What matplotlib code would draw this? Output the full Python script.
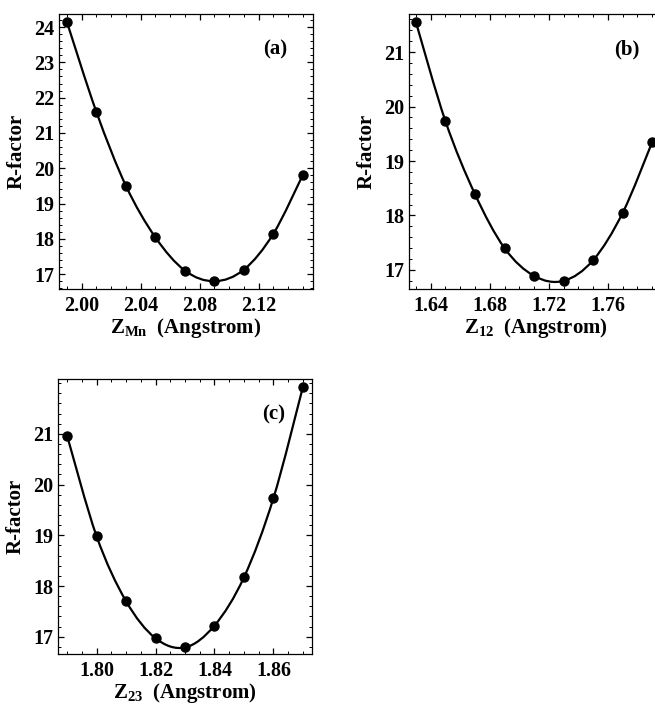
import numpy as np
import matplotlib
matplotlib.use('Agg')
import matplotlib.pyplot as plt
from matplotlib.path import Path
from matplotlib.patches import PathPatch
from matplotlib.ticker import AutoMinorLocator

plt.rcParams['font.family'] = ['Liberation Serif', 'DejaVu Serif']
plt.rcParams['font.weight'] = 'bold'
plt.rcParams['mathtext.fontset'] = 'custom'
plt.rcParams['mathtext.rm'] = 'Liberation Serif:bold'
plt.rcParams['mathtext.bf'] = 'Liberation Serif:bold'
plt.rcParams['mathtext.default'] = 'bf'

# R-factor versus layer spacing
z_mn = [1.99, 2.01, 2.03, 2.05, 2.07, 2.09, 2.11, 2.13, 2.15]
r_mn = [24.14, 21.59, 19.50, 18.04, 17.10, 16.80, 17.13, 18.15, 19.82]

z_12 = [1.63, 1.65, 1.67, 1.69, 1.71, 1.73, 1.75, 1.77, 1.79]
r_12 = [21.55, 19.73, 18.39, 17.40, 16.89, 16.80, 17.18, 18.05, 19.35]

z_23 = [1.79, 1.80, 1.81, 1.82, 1.83, 1.84, 1.85, 1.86, 1.87]
r_23 = [20.96, 18.98, 17.70, 16.97, 16.79, 17.22, 18.17, 19.73, 21.92]

xticks_a = [2.00, 2.04, 2.08, 2.12]
xticks_b = [1.64, 1.68, 1.72, 1.76]
xticks_c = [1.80, 1.82, 1.84, 1.86]


def smooth_path(x, y):
    # Catmull-Rom style bezier through the measured points
    p = np.column_stack([x, y])
    verts = [p[0]]
    codes = [Path.MOVETO]
    n = len(p)
    for i in range(n - 1):
        p0 = p[i - 1] if i > 0 else p[i]
        p3 = p[i + 2] if i + 2 < n else p[i + 1]
        c1 = p[i] + (p[i + 1] - p0) / 6.0
        c2 = p[i + 1] - (p3 - p[i]) / 6.0
        verts += [c1, c2, p[i + 1]]
        codes += [Path.CURVE4] * 3
    return Path(verts, codes)


def panel(ax, x, y, xlim, ylim, xticks, yticks, xlabel, tag, tagpos):
    ax.add_patch(PathPatch(smooth_path(x, y), fc='none', ec='black', lw=1.6))
    ax.plot(x, y, 'o', color='black', ms=6.5)
    ax.set_xlim(xlim)
    ax.set_ylim(ylim)
    ax.set_xticks(xticks)
    ax.set_xticklabels(['%.2f' % t for t in xticks])
    ax.set_yticks(yticks)
    ax.xaxis.set_minor_locator(AutoMinorLocator(4))
    ax.yaxis.set_minor_locator(AutoMinorLocator(5))
    ax.tick_params(which='both', direction='in', top=True, right=True, labelsize=14.5)
    ax.tick_params(which='major', length=4, width=0.9)
    ax.tick_params(which='minor', length=2, width=0.7)
    ax.tick_params(axis='x', pad=5)
    for s in ax.spines.values():
        s.set_linewidth(0.9)
    ax.set_xlabel(xlabel, fontsize=15, fontweight='bold', labelpad=0)
    ax.set_ylabel('R-factor', fontsize=15, fontweight='bold', labelpad=5)
    ax.text(tagpos[0], tagpos[1], tag, transform=ax.transAxes, fontsize=15,
            fontweight='bold', ha='center', va='center')


fig = plt.figure(figsize=(6.55, 7.06), dpi=100)
W, H = 655.0, 706.0

ax_a = fig.add_axes([59 / W, (H - 289) / H, 254 / W, 275 / H])
ax_b = fig.add_axes([409 / W, (H - 289) / H, 253 / W, 275 / H])
ax_c = fig.add_axes([58 / W, (H - 654) / H, 254 / W, 275 / H])

panel(ax_a, z_mn, r_mn, (1.9846, 2.1568), (16.58, 24.37), xticks_a,
      range(17, 25), r'Z$_{Mn}$  (Angstrom)', '(a)', (0.85, 0.87))
panel(ax_b, z_12, r_12, (1.6253, 1.7966), (16.65, 21.70), xticks_b,
      range(17, 22), r'Z$_{12}$  (Angstrom)', '(b)', (0.86, 0.87))
panel(ax_c, z_23, r_23, (1.7869, 1.8731), (16.66, 22.08), xticks_c,
      range(17, 22), r'Z$_{23}$  (Angstrom)', '(c)', (0.85, 0.87))

fig.savefig('out.png', dpi=100)
